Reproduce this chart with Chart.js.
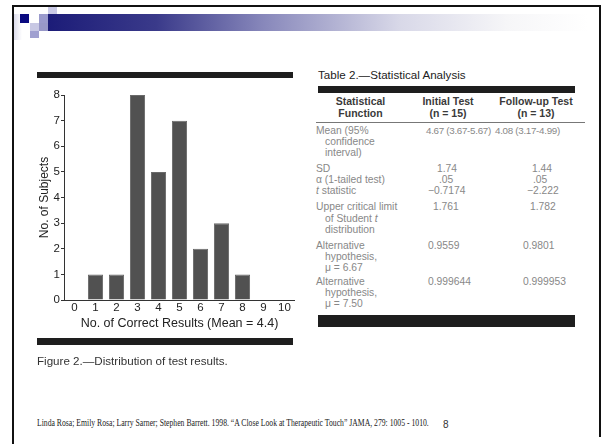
<!DOCTYPE html>
<html>
<head>
<meta charset="utf-8">
<script src="https://cdn.jsdelivr.net/npm/chart.js@4"></script>
<style>
  html, body { margin: 0; padding: 0; background: #fff; }
  body { width: 602px; height: 444px; position: relative; overflow: hidden; font-family: "Liberation Sans", Arial, sans-serif; }
  .abs { position: absolute; }
  .frameTop { left: 12px; top: 5px; width: 589px; height: 2px; background: #111; }
  .frameLeft { left: 12px; top: 5px; width: 2px; height: 439px; background: #111; }
  .frameRight { left: 599px; top: 5px; width: 2px; height: 432px; background: #111; }
  .sq { position: absolute; width: 9px; height: 9px; }
  .band { left: 48px; top: 14px; width: 540px; height: 17px;
          background: linear-gradient(to right, #1c1c78 0%, #3a3a8a 20%, #8888bb 40%, #d8d8e8 65%, #f6f6f8 85%, #fff 100%); }
  .fade { left: 14px; top: 14px; width: 8px; height: 26px; background: linear-gradient(to right, #dcdcec, #fff); }
  .rule { position: absolute; background: #1e1e1e; }
  #chartBox { position: absolute; left: 20px; top: 85px; }
  .cap { left: 37px; top: 354px; font-size: 11.6px; color: #333; }
  .ttitle { left: 318px; top: 68px; font-size: 11.6px; color: #222; }
  table.stat { position: absolute; left: 316px; top: 96px; border-collapse: collapse; table-layout: fixed; width: 269px; }
  table.stat th { font-size: 10.5px; font-weight: bold; color: #3a3a3a; line-height: 11.5px; padding: 0 0 3px 0; text-align: center; border-bottom: 1px solid #777; }
  table.stat td { font-size: 10.3px; color: #888; line-height: 11.3px; padding: 0; vertical-align: top; text-align: left; white-space: nowrap; }
  table.stat td.lab { padding-left: 9px; text-indent: -9px; white-space: normal; }
  table.stat td.tight { font-size: 9.8px; letter-spacing: -0.3px; }
  table.stat tr.gap td { padding-bottom: 4.5px; }
  table.stat tr.gap2 td { padding-bottom: 2px; }
  table.stat tr.first td { padding-top: 1.5px; }
  .cite { left: 37px; top: 418px; font-family: "Liberation Serif", "Times New Roman", serif; font-size: 9.5px; color: #222; white-space: nowrap; transform: scaleX(0.81); transform-origin: left top; }
  .pnum { left: 443px; top: 419px; font-size: 10px; color: #333; }
</style>
</head>
<body>
<div class="abs frameTop"></div>
<div class="abs frameLeft"></div>
<div class="abs frameRight"></div>
<div class="abs fade"></div>
<div class="abs band"></div>
<div class="sq" style="left:20px;top:14px;background:#0a0a80;"></div>
<div class="sq" style="left:30px;top:14px;background:#fff;"></div>
<div class="sq" style="left:39px;top:14px;background:#9a9acc;"></div>
<div class="sq" style="left:48px;top:7px;height:7px;background:#cacae6;"></div>
<div class="sq" style="left:30px;top:23px;height:8px;background:#c8c8e4;"></div>
<div class="sq" style="left:39px;top:23px;height:8px;background:#9898c8;"></div>
<div class="sq" style="left:30px;top:31px;height:7px;background:#a0a0d0;"></div>

<!-- figure -->
<div class="rule" style="left:37px;top:72px;width:256px;height:6px;"></div>
<div id="chartBox"><canvas id="fig2" width="275" height="255"></canvas></div>
<div class="rule" style="left:37px;top:338px;width:256px;height:7px;"></div>
<div class="abs cap">Figure 2.—Distribution of test results.</div>

<!-- table -->
<div class="abs ttitle">Table 2.—Statistical Analysis</div>
<div class="rule" style="left:318px;top:86px;width:257px;height:7px;"></div>
<table class="stat">
  <colgroup><col style="width:89px"><col style="width:86px"><col style="width:94px"></colgroup>
  <thead>
    <tr><th>Statistical<br>Function</th><th>Initial Test<br>(n = 15)</th><th style="padding-right:4px">Follow-up Test<br>(n = 13)</th></tr>
  </thead>
  <tbody>
    <tr class="gap first"><td class="lab">Mean (95%<br>confidence<br>interval)</td><td class="tight" style="padding-left:21px">4.67 (3.67-5.67)</td><td class="tight" style="padding-left:4px">4.08 (3.17-4.99)</td></tr>
    <tr><td class="lab">SD</td><td style="padding-left:32px">1.74</td><td style="padding-left:41px">1.44</td></tr>
    <tr><td class="lab">α (1-tailed test)</td><td style="padding-left:34px">.05</td><td style="padding-left:42px">.05</td></tr>
    <tr class="gap"><td class="lab"><i>t</i> statistic</td><td style="padding-left:23px">−0.7174</td><td style="padding-left:36px">−2.222</td></tr>
    <tr class="gap"><td class="lab">Upper critical limit<br>of Student <i>t</i><br>distribution</td><td style="padding-left:28px">1.761</td><td style="padding-left:39px">1.782</td></tr>
    <tr class="gap2"><td class="lab">Alternative<br>hypothesis,<br>μ = 6.67</td><td style="padding-left:23px">0.9559</td><td style="padding-left:32px">0.9801</td></tr>
    <tr><td class="lab">Alternative<br>hypothesis,<br>μ = 7.50</td><td style="padding-left:23px">0.999644</td><td style="padding-left:32px">0.999953</td></tr>
  </tbody>
</table>
<div class="rule" style="left:318px;top:315px;width:257px;height:12px;"></div>

<div class="abs cite">Linda Rosa; Emily Rosa; Larry Sarner; Stephen Barrett. 1998. “A Close Look at Therapeutic Touch” JAMA, 279: 1005 - 1010.</div>
<div class="abs pnum">8</div>

<script>
// Figure 2 data: number of subjects per count of correct results
var correctResults = ['0', '1', '2', '3', '4', '5', '6', '7', '8', '9', '10'];
var subjectCounts = [0, 1, 1, 8, 5, 7, 2, 3, 1, 0, 0];
var yTicks = [0, 1, 2, 3, 4, 5, 6, 7, 8];

var axisFont = { family: '"Liberation Sans", Arial, sans-serif', size: 11.5 };

var ctx = document.getElementById('fig2');
var fig = new Chart(ctx, {
  type: 'bar',
  data: {
    labels: correctResults,
    datasets: [{
      label: 'No. of Subjects',
      data: subjectCounts,
      backgroundColor: '#515151',
      borderColor: '#6a6a6a',
      borderWidth: 1,
      barPercentage: 0.8,
      categoryPercentage: 0.9,
    }]
  },
  options: {
    responsive: false,
    animation: false,
    devicePixelRatio: 1,
    layout: { padding: { top: 10, right: 0, left: 0, bottom: 0 } },
    plugins: { legend: { display: false }, tooltip: { enabled: false } },
    scales: {
      x: {
        offset: true,
        grid: { display: false, drawTicks: false },
        border: { display: true, color: '#333', width: 1 },
        ticks: { color: '#222', font: axisFont, padding: 1, maxRotation: 0, autoSkip: false },
        title: {
          display: true,
          text: 'No. of Correct Results (Mean = 4.4)',
          color: '#222',
          font: { family: '"Liberation Sans", Arial, sans-serif', size: 12.5 },
          padding: { top: 0, bottom: 9 },
        },
        afterFit: function(scale) { scale.height = 40; },
      },
      y: {
        min: 0,
        max: 8,
        afterBuildTicks: function(scale) {
          scale.ticks = yTicks.map(function(v) { return { value: v }; });
        },
        grid: { drawOnChartArea: false, drawTicks: true, tickLength: 3, color: '#333' },
        border: { display: true, color: '#333', width: 1 },
        ticks: { color: '#222', font: axisFont, padding: 1 },
        title: {
          display: true,
          text: 'No. of Subjects',
          color: '#222',
          font: { family: '"Liberation Sans", Arial, sans-serif', size: 12 },
          padding: { top: 17, bottom: 0 },
        },
        afterFit: function(scale) { scale.width = 44; },
      }
    }
  }
});
</script>
</body>
</html>
